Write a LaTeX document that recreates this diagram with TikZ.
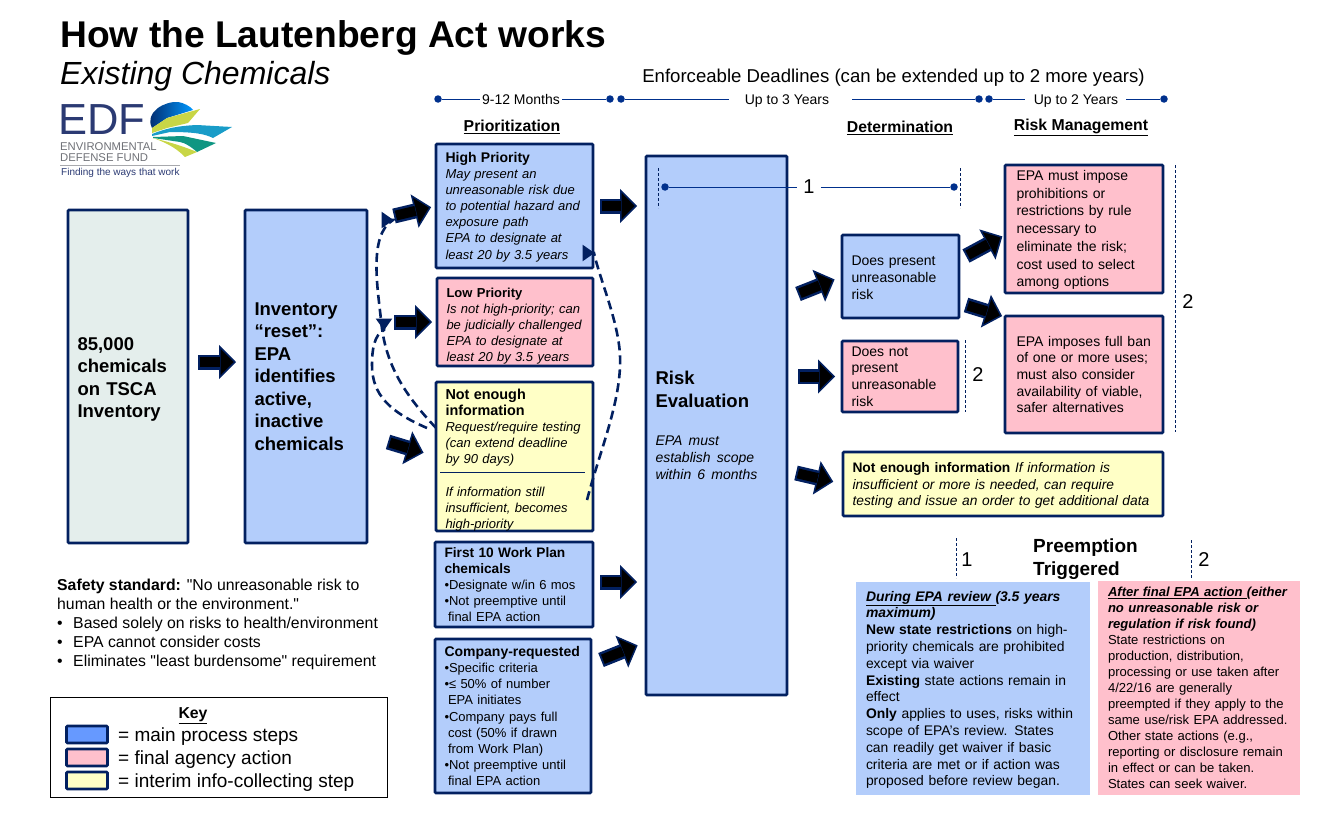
\documentclass[tikz,border=0pt]{standalone}
\usepackage{fontspec}
\usepackage{xcolor}
\usepackage{tikz}
\setmainfont{Liberation Sans}[Ligatures=TeXOff]
\usetikzlibrary{arrows.meta,positioning}
\definecolor{epaNavy}{RGB}{2,32,96}
\definecolor{epaBlue}{RGB}{179,205,251}
\definecolor{epaPink}{RGB}{255,192,204}
\definecolor{epaYellow}{RGB}{255,255,198}
\definecolor{epaPale}{RGB}{228,238,236}
\definecolor{epaKey}{RGB}{102,153,255}
\definecolor{epaDot}{RGB}{0,48,140}
\definecolor{edfNavy}{RGB}{43,58,115}
\definecolor{edfGray}{RGB}{110,112,118}
\definecolor{edfLime}{RGB}{200,214,70}
\definecolor{edfSky}{RGB}{25,156,200}
\definecolor{edfTeal}{RGB}{15,150,130}
\newcommand{\firstline}[1]{\rule{0pt}{#1}}
\tikzset{
  boxbase/.style={draw=epaNavy, line width=2.8pt, rounded corners=1pt, inner xsep=0pt, inner ysep=0pt, outer sep=0pt, align=left},
  sized/.style 2 args={minimum width=#1, minimum height=#2, text width={#1-19}},
  small/.style={font=\fontsize{13}{16.1}\selectfont},
  big/.style={font=\bfseries\fontsize{18.5}{22.5}\selectfont},
  mid/.style={font=\fontsize{14}{16.6}\selectfont},
  header/.style={font=\bfseries\fontsize{15.8}{18}\selectfont, inner sep=0pt},
  tdot/.style={circle, fill=epaDot, inner sep=0pt, minimum size=7.5pt},
  tlabel/.style={font=\fontsize{14}{16}\selectfont, inner sep=2pt, text height=11pt, text depth=0pt},
  tline/.style={epaDot, line width=1pt},
  marker/.style={epaNavy, line width=0.8pt, dash pattern=on 3pt off 2pt},
  mark num/.style={font=\fontsize{20}{22}\selectfont, inner sep=0pt},
  bigarrow/.style 2 args={epaNavy, line width=15pt, shorten <=#1, shorten >=#2,
    -{Triangle[length=17pt,width=34pt,fill=black,line width=1.5pt]},
    postaction={draw=black, line width=10pt, -, shorten <=#1+2, shorten >=#2+16}},
  dashcurve/.style={epaNavy, line width=2.6pt, dash pattern=on 9pt off 5pt, -{Triangle[length=12pt,width=16pt]}}
}
\begin{document}
\begin{tikzpicture}[x=1pt,y=-1pt]
\useasboundingbox (0,0) rectangle (1344,816);

\node[anchor=west, inner sep=0pt, font=\bfseries\fontsize{37.2}{40}\selectfont] (title) at (60,37.5) {How the Lautenberg Act works};
\node[anchor=west, inner sep=0pt, font=\itshape\fontsize{32}{36}\selectfont] (subtitle) at (60,76.5) {Existing Chemicals};
\node[inner sep=0pt, font=\fontsize{18.6}{22}\selectfont] (deadlines) at (893.5,78) {Enforceable Deadlines (can be extended up to 2 more years)};

\shade[left color=epaNavy, right color=cyan!60!blue] (152,128) .. controls (144,112) and (165,101) .. (178,102) .. controls (184,103) and (190,106) .. (193,110) -- (167,118) -- cycle;
\fill[edfLime] (152,128) -- (167,118) -- (200,109) -- (188,123) -- (167,128) -- (152,133) -- cycle;
\fill[edfSky] (152,134) .. controls (165,129) and (175,126) .. (197,125) -- (232,127) -- (213,138) .. controls (205,134) and (195,132) .. (170,132) -- (152,136) -- cycle;
\fill[edfTeal] (153,137) -- (183,136) -- (216,143) -- (197,152) .. controls (190,146) and (185,143) .. (180,142) -- (153,138) -- cycle;
\fill[edfLime] (153,138) .. controls (165,141) and (180,145) .. (197,152) -- (185,157) .. controls (178,150) and (170,144) .. (153,138) -- cycle;
\node[anchor=west, inner sep=0pt, text=edfNavy, font=\fontsize{43.5}{44}\selectfont] (edfName) at (58,120) {EDF};
\node[anchor=north west, inner sep=0pt, align=left, text=edfGray, font=\fontsize{11.3}{11}\selectfont] (edfFull) at (60,142) {ENVIRONMENTAL\\DEFENSE FUND};
\draw[edfGray!60, line width=0.8pt] (60,165.5) -- (180,165.5);
\node[anchor=west, inner sep=0pt, text=edfNavy, font=\fontsize{10}{12}\selectfont] (edfMotto) at (61,173) {Finding the ways that work};

\foreach \name/\x in {dotA/438,dotB/610,dotC/621,dotD/979,dotE/989,dotF/1164}
{
\node[tdot] (\name) at (\x,99) {};
}
\node[tlabel] (labelA) at (521,99) {9-12 Months};
\node[tlabel] (labelB) at (787,99) {Up to 3 Years};
\node[tlabel] (labelC) at (1076,99) {Up to 2 Years};
\draw[tline] (dotA) -- (labelA);
\draw[tline] (labelA) -- (dotB);
\draw[tline, shorten >=14pt] (dotC) -- (labelB);
\draw[tline, shorten <=21pt] (labelB) -- (dotD);
\draw[tline, shorten >=7pt] (dotE) -- (labelC);
\draw[tline, shorten <=6pt] (labelC) -- (dotF);

\node[header] (headPrior) at (512,127) {\underline{Prioritization}};
\node[header] (headDeter) at (900,128) {\underline{Determination}};
\node[header] (headRisk) at (1081,127) {\underline{Risk Management}};

\node[boxbase, big, fill=epaPale, sized={120}{333}] (stock) at (128,376.5) {\firstline{19.3pt}85,000\\chemicals\\on TSCA\\Inventory};
\node[boxbase, big, fill=epaBlue, sized={122}{333}] (inventory) at (306,376.5) {Inventory\\“reset”:\\EPA\\identifies\\active,\\inactive\\chemicals};

\node[boxbase, small, fill=epaBlue, sized={157}{124}] (high) at (514.5,206) {\firstline{12.2pt}{\fontsize{14}{16.1}\selectfont\textbf{High Priority}}\\\textit{May present an\\unreasonable risk due\\to potential hazard and\\exposure path\\EPA to designate at\\least 20 by 3.5 years}};
\node[boxbase, small, fill=epaPink, sized={156}{88}] (low) at (515,322) {\firstline{17.5pt}\textbf{Low Priority}\\\textit{Is not high-priority;  can\\be judicially challenged\\EPA to designate at\\least 20 by 3.5 years}};
\node[boxbase, small, fill=epaYellow, sized={157}{147}] (notEnough) at (514.5,456.5) {\firstline{17.5pt}{\fontsize{14.4}{16.1}\selectfont\textbf{Not enough}}\\{\fontsize{14.4}{16.1}\selectfont\textbf{information}}\\\textit{Request/require  testing\\(can extend deadline\\by 90 days)}\\[16pt]\textit{If information still\\insufficient, becomes\\high-priority}};
\draw[epaNavy, line width=0.8pt] (440,472) -- (585,472);
\node[boxbase, small, fill=epaBlue, sized={158}{85}] (workPlan) at (514,584.5) {{\fontsize{13.7}{16.1}\selectfont\textbf{First 10 Work Plan}}\\{\fontsize{13.7}{16.1}\selectfont\textbf{chemicals}}\\•Designate w/in 6 mos\\•Not preemptive  until\\\hspace*{3.5pt}final EPA action};
\node[boxbase, small, fill=epaBlue, sized={156}{154}] (company) at (513,716) {{\fontsize{14}{16.1}\selectfont\textbf{Company-requested}}\\•Specific criteria\\•≤ 50\% of number\\\hspace*{3.5pt}EPA initiates\\•Company pays full\\\hspace*{3.5pt}cost (50\% if drawn\\\hspace*{3.5pt}from Work Plan)\\•Not preemptive  until\\\hspace*{3.5pt}final EPA action};

\node[boxbase, big, fill=epaBlue, sized={141}{539}] (risk) at (716.5,425.5) {Risk\\Evaluation\\[21pt]{\mdseries\itshape\fontsize{14}{17}\selectfont EPA must\\establish scope\\within 6 months\par}};

\node[boxbase, mid, fill=epaBlue, sized={117}{83}] (present) at (900.5,276.5) {\firstline{12.2pt}Does present\\unreasonable\\risk};
\node[boxbase, mid, fill=epaPink, sized={116}{71}] (absent) at (900,376.5) {Does not\\present\\unreasonable\\risk};
\node[boxbase, fill=epaPink, sized={158}{128}, text width=135, font=\fontsize{14}{17.7}\selectfont] (mustAct) at (1084,229) {\firstline{12.2pt}EPA must impose\\prohibitions or\\restrictions by rule\\necessary to\\eliminate the risk;\\cost used to select\\among options};
\node[boxbase, mid, fill=epaPink, sized={158}{117}, text width=135] (fullBan) at (1084,374.5) {EPA imposes full ban\\of one or more uses;\\must also consider\\availability of viable,\\safer alternatives};
\node[boxbase, fill=epaYellow, sized={320}{64}, font=\fontsize{13.8}{16.5}\selectfont] (needData) at (1003,484) {\firstline{13pt}\textbf{Not enough information}  \textit{If information is\\insufficient or more is needed, can require\\testing and issue an order to get additional data}};

\node[inner sep=0pt, outer sep=0pt, align=left, fill=epaBlue, minimum width=234, minimum height=213, text width=214, font=\fontsize{13.9}{16.8}\selectfont] (during) at (973,688.5) {\firstline{13pt}\textbf{\textit{\underline{During EPA review }(3.5 years\\maximum)}}\\\textbf{New state restrictions} on high-\\priority chemicals are prohibited\\except via waiver\\\textbf{Existing} state actions remain in\\effect\\\textbf{Only} applies to uses, risks within\\scope of EPA’s review.  States\\can readily get waiver if basic\\criteria are met or if action was\\proposed before review began.};
\node[inner sep=0pt, outer sep=0pt, align=left, fill=epaPink, minimum width=202, minimum height=214, text width=182, font=\fontsize{13.05}{16}\selectfont] (after) at (1199,688) {\textbf{\textit{\underline{After final EPA action }(either\\no unreasonable  risk or\\regulation if risk found)}}\\State restrictions on\\production, distribution,\\processing or use taken after\\4/22/16 are generally\\preempted if they apply to the\\same use/risk EPA addressed.\\Other state actions (e.g.,\\reporting or disclosure remain\\in effect or can be taken.\\States can seek waiver.};

\node[anchor=north west, inner sep=0pt, align=left, font=\bfseries\fontsize{19}{23}\selectfont] (preempt) at (1033,539) {Preemption\\Triggered};

\draw[marker] (658,168) -- (658,208);
\draw[marker] (960,168) -- (960,208);
\draw[marker] (1175,165) -- (1175,432);
\draw[marker] (965,340) -- (965,412);
\draw[marker] (956,538) -- (956,578);
\draw[marker] (1191,540) -- (1191,578);
\node[tdot] (spanStart) at (665,187) {};
\node[tdot] (spanEnd) at (954,187) {};
\node[mark num, inner xsep=6pt] (numTop) at (809,187) {1};
\draw[tline] (spanStart) -- (numTop);
\draw[tline] (numTop) -- (spanEnd);
\node[mark num] (numBan) at (1188,302) {2};
\node[mark num] (numAbsent) at (978,375) {2};
\node[mark num] (numDuring) at (967,560) {1};
\node[mark num] (numAfter) at (1204,560) {2};

\node[anchor=north west, inner sep=0pt, align=left, font=\fontsize{15.8}{19}\selectfont] (safety) at (57,579) {\textbf{Safety standard:} "No unreasonable  risk to\\human health or the environment."\\•\hspace{10.5pt}Based solely on risks to health/environment\\•\hspace{10.5pt}EPA cannot consider costs\\•\hspace{10.5pt}Eliminates "least burdensome" requirement};

\node[draw=black, line width=1pt, inner sep=0pt, minimum width=337, minimum height=100] (keyFrame) at (218.5,747) {};
\node[font=\bfseries\fontsize{15.8}{18}\selectfont, inner sep=0pt] (keyTitle) at (193,716) {\underline{Key}};
\foreach \name/\col/\y/\txt in {keyMain/epaKey/734.5/main process steps,keyFinal/epaPink/757.5/final agency action,keyInterim/epaYellow/780.5/interim info-collecting step}
{
\node[boxbase, fill=\col, minimum width=41, minimum height=17] (\name) at (87,\y) {};
\node[anchor=west, inner sep=0pt, font=\fontsize{19}{20}\selectfont] (\name Text) at (118,\y+2) {= \txt};
}

\coordinate (tailHigh) at (394,216);
\coordinate (tailInfo) at (388,442);
\coordinate (tailCompany) at (601,660);
\coordinate (tailPresent) at (798,294);
\coordinate (tailNeed) at (796,473);
\coordinate (tailMust) at (966,256);
\coordinate (tailBan) at (966,305);
\draw[bigarrow={10}{9}] (stock.east |- 0,362) -- (inventory.west |- 0,362);
\draw[bigarrow={0}{5}] (tailHigh) -- (high.west);
\draw[bigarrow={27}{5}] (inventory.east |- low.west) -- (low.west);
\draw[bigarrow={0}{13}] (tailInfo) -- (notEnough.west);
\draw[bigarrow={7}{9}] (high.east) -- (risk.west |- high.east);
\draw[bigarrow={7}{9}] (workPlan.east |- 0,582) -- (risk.west |- 0,582);
\draw[bigarrow={0}{9}] (tailCompany) -- (risk.west |- 0,642);
\draw[bigarrow={0}{8}] (tailPresent) -- (present.west);
\draw[bigarrow={11}{7}] (risk.east |- absent.west) -- (absent.west);
\draw[bigarrow={0}{10}] (tailNeed) -- (needData.west);
\draw[bigarrow={0}{3}] (tailMust) -- (mustAct.west |- 0,235);
\draw[bigarrow={0}{3}] (tailBan) -- (fullBan.west |- 0,317);

\coordinate (infoOutA) at (427,428);
\coordinate (infoOutB) at (587,500);
\coordinate (headHigh) at (393,220);
\coordinate (headLow) at (384,330);
\coordinate (headTop) at (594,253);
\draw[dashcurve] (notEnough.160) .. controls (405,395) and (385,365) .. (381,320) .. controls (378,290) and (368,235) .. (headHigh) -- ++(0.5,0);
\draw[dashcurve] (infoOutA) .. controls (390,412) and (372,395) .. (372,365) .. controls (372,350) and (374,335) .. (headLow) -- ++(0,0.5);
\draw[dashcurve] (infoOutB) .. controls (600,450) and (622,400) .. (620,355) .. controls (618,320) and (600,280) .. (headTop) -- ++(0.5,0);
\end{tikzpicture}
\end{document}
